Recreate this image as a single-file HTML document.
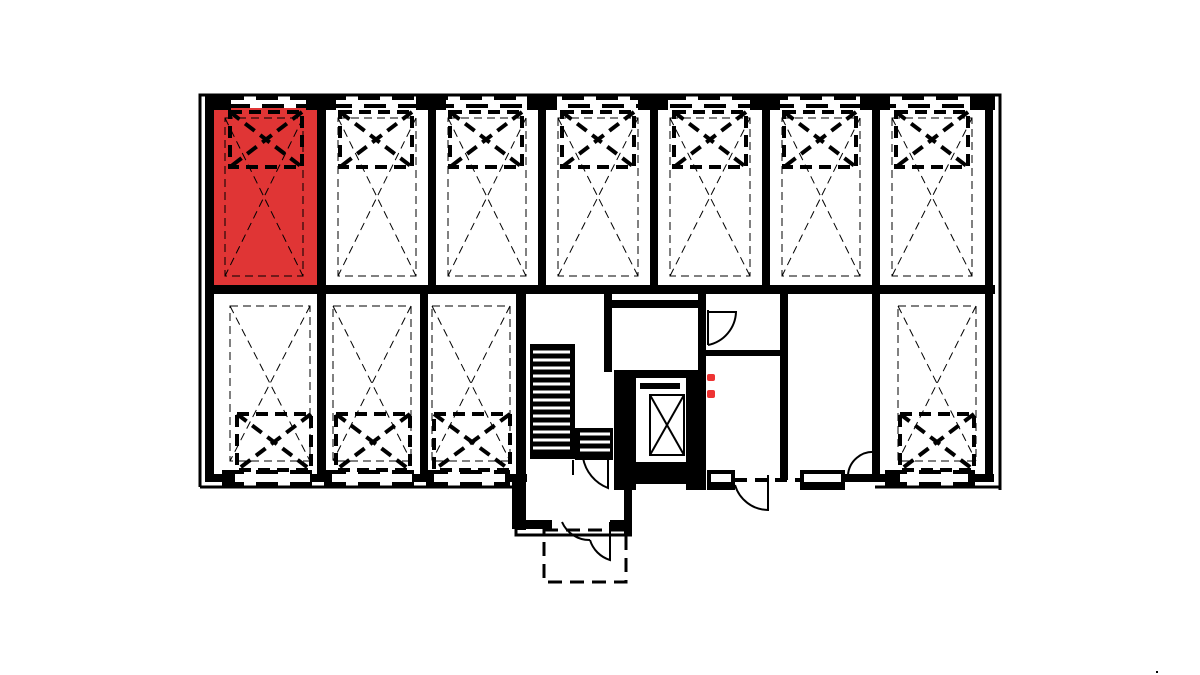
<!DOCTYPE html>
<html><head><meta charset="utf-8"><style>html,body{margin:0;padding:0;background:#fff;width:1200px;height:675px;overflow:hidden}</style></head>
<body>
<svg width="1200" height="675" viewBox="0 0 1200 675" xmlns="http://www.w3.org/2000/svg">
<rect x="0" y="0" width="1200" height="675" fill="#fff"/>
<rect x="214" y="108" width="103" height="178" fill="#e03535"/>
<g fill="none" stroke="#000" stroke-width="3">
<path d="M200 487 V95 H1000 V490"/>
<path d="M200 487 H512 M875 487 H1000"/>
</g>
<!-- top window dashes (two lines) -->
<g stroke="#000" stroke-width="4" stroke-dasharray="22 12">
<line x1="222" y1="98" x2="985" y2="98"/>
<line x1="228" y1="106" x2="985" y2="106"/>
<line x1="222" y1="484" x2="510" y2="484"/>
<line x1="885" y1="484" x2="985" y2="484"/>
<line x1="222" y1="472" x2="510" y2="472"/>
<line x1="885" y1="472" x2="985" y2="472"/>
</g>
<!-- pillars top -->
<g fill="#000">
<rect x="205" y="95" width="26" height="15"/>
<rect x="306" y="95" width="30" height="15"/>
<rect x="416" y="95" width="30" height="15"/>
<rect x="527" y="95" width="30" height="15"/>
<rect x="638" y="95" width="30" height="15"/>
<rect x="750" y="95" width="30" height="15"/>
<rect x="860" y="95" width="30" height="15"/>
<rect x="970" y="95" width="25" height="15"/>
</g>
<g fill="#000">
<rect x="205" y="102" width="9" height="380"/>
<rect x="985" y="102" width="8" height="380"/>
<rect x="205" y="474" width="30" height="8"/>
<rect x="310" y="474" width="22" height="8"/>
<rect x="412" y="474" width="22" height="8"/>
<rect x="505" y="474" width="22" height="8"/>
<rect x="875" y="474" width="25" height="8"/>
<rect x="968" y="474" width="26" height="8"/>
<rect x="205" y="285" width="790" height="9"/>
<rect x="317" y="102" width="9" height="190"/>
<rect x="428" y="102" width="8" height="190"/>
<rect x="538" y="102" width="8" height="190"/>
<rect x="650" y="102" width="8" height="190"/>
<rect x="762" y="102" width="8" height="190"/>
<rect x="872" y="102" width="8" height="190"/>
<rect x="317" y="290" width="9" height="190"/>
<rect x="420" y="290" width="8" height="190"/>
<rect x="872" y="290" width="8" height="190"/>
<rect x="516" y="290" width="10" height="240"/>
<rect x="604" y="300" width="96" height="8"/>
<rect x="698" y="290" width="8" height="200"/>
<rect x="780" y="290" width="8" height="190"/>
<rect x="706" y="350" width="78" height="6"/>
<rect x="604" y="290" width="8" height="82"/>
<rect x="614" y="370" width="88" height="8"/>
<rect x="614" y="370" width="22" height="120"/>
<rect x="686" y="370" width="20" height="120"/>
<rect x="614" y="462" width="92" height="22"/>
<rect x="624" y="480" width="8" height="55"/>
<rect x="512" y="520" width="40" height="9"/>
<rect x="610" y="520" width="22" height="9"/>
<rect x="512" y="480" width="5" height="48"/>
<rect x="707" y="470" width="28" height="20"/>
<rect x="800" y="470" width="45" height="20"/>
<rect x="845" y="474" width="30" height="8"/>
</g>
<rect x="711" y="474" width="20" height="8" fill="#fff"/>
<rect x="804" y="474" width="37" height="8" fill="#fff"/>
<line x1="735" y1="480" x2="800" y2="480" stroke="#000" stroke-width="4" stroke-dasharray="12 8"/>
<rect x="640" y="380" width="42" height="80" fill="#fff"/>
<g stroke="#000" stroke-width="2" fill="none">
<rect x="650" y="395" width="34" height="60"/>
<line x1="650" y1="395" x2="684" y2="455"/><line x1="684" y1="395" x2="650" y2="455"/>
</g>
<rect x="640" y="383" width="40" height="6" fill="#000"/>
<g fill="#000">
<rect x="530" y="344" width="45" height="115"/>
<rect x="575" y="428" width="38" height="32"/>
</g>
<g stroke="#fff" stroke-width="3">
<line x1="533" y1="352" x2="570" y2="352"/><line x1="533" y1="360" x2="570" y2="360"/><line x1="533" y1="368" x2="570" y2="368"/>
<line x1="533" y1="376" x2="570" y2="376"/><line x1="533" y1="384" x2="570" y2="384"/><line x1="533" y1="392" x2="570" y2="392"/>
<line x1="533" y1="400" x2="570" y2="400"/><line x1="533" y1="408" x2="570" y2="408"/><line x1="533" y1="416" x2="570" y2="416"/>
<line x1="533" y1="424" x2="570" y2="424"/><line x1="533" y1="432" x2="570" y2="432"/><line x1="533" y1="440" x2="570" y2="440"/>
<line x1="533" y1="448" x2="570" y2="448"/>
<line x1="580" y1="434" x2="610" y2="434"/><line x1="580" y1="442" x2="610" y2="442"/><line x1="580" y1="450" x2="610" y2="450"/>
</g>
<g fill="none" stroke="#000" stroke-width="2">
<path d="M708 310 V345 M708 345 A35 35 0 0 0 736 312 H708"/>
<path d="M573 460 V475 M583 458 A40 40 0 0 0 608 488 V460"/>
<path d="M735 485 A35 35 0 0 0 768 510 V475"/>
<path d="M848 475 A25 25 0 0 1 875 452"/>
<path d="M562 522 A30 30 0 0 0 590 540 M610 522 V560 A30 30 0 0 1 590 540"/>
</g>
<rect x="544" y="530" width="82" height="52" fill="none" stroke="#000" stroke-width="3" stroke-dasharray="14 8"/>
<path d="M516 480 V535 H632" fill="none" stroke="#000" stroke-width="3"/>
<rect x="707" y="374" width="8" height="7" rx="2" fill="#e33"/>
<rect x="707" y="390" width="8" height="8" rx="2" fill="#e33"/>
<g fill="none" stroke="#000" stroke-width="1" stroke-dasharray="8 5">
<rect x="225" y="118" width="78" height="158"/><path d="M225 118 L303 276 M303 118 L225 276"/>
<rect x="338" y="118" width="78" height="158"/><path d="M338 118 L416 276 M416 118 L338 276"/>
<rect x="448" y="118" width="78" height="158"/><path d="M448 118 L526 276 M526 118 L448 276"/>
<rect x="558" y="118" width="80" height="158"/><path d="M558 118 L638 276 M638 118 L558 276"/>
<rect x="670" y="118" width="80" height="158"/><path d="M670 118 L750 276 M750 118 L670 276"/>
<rect x="782" y="118" width="78" height="158"/><path d="M782 118 L860 276 M860 118 L782 276"/>
<rect x="892" y="118" width="80" height="158"/><path d="M892 118 L972 276 M972 118 L892 276"/>
<rect x="230" y="306" width="80" height="155"/><path d="M230 306 L310 461 M310 306 L230 461"/>
<rect x="333" y="306" width="78" height="155"/><path d="M333 306 L411 461 M411 306 L333 461"/>
<rect x="432" y="306" width="78" height="155"/><path d="M432 306 L510 461 M510 306 L432 461"/>
<rect x="898" y="306" width="78" height="155"/><path d="M898 306 L976 461 M976 306 L898 461"/>
</g>
<g fill="none" stroke="#000" stroke-width="4" stroke-dasharray="12 7">
<rect x="230" y="112" width="72" height="55"/><path d="M230 112 L302 167 M302 112 L230 167"/>
<rect x="340" y="112" width="72" height="55"/><path d="M340 112 L412 167 M412 112 L340 167"/>
<rect x="450" y="112" width="72" height="55"/><path d="M450 112 L522 167 M522 112 L450 167"/>
<rect x="562" y="112" width="72" height="55"/><path d="M562 112 L634 167 M634 112 L562 167"/>
<rect x="674" y="112" width="72" height="55"/><path d="M674 112 L746 167 M746 112 L674 167"/>
<rect x="784" y="112" width="72" height="55"/><path d="M784 112 L856 167 M856 112 L784 167"/>
<rect x="896" y="112" width="72" height="55"/><path d="M896 112 L968 167 M968 112 L896 167"/>
<rect x="237" y="414" width="74" height="56"/><path d="M237 414 L311 470 M311 414 L237 470"/>
<rect x="336" y="414" width="74" height="56"/><path d="M336 414 L410 470 M410 414 L336 470"/>
<rect x="434" y="414" width="76" height="56"/><path d="M434 414 L510 470 M510 414 L434 470"/>
<rect x="900" y="414" width="74" height="56"/><path d="M900 414 L974 470 M974 414 L900 470"/>
</g>
<rect x="1156" y="671" width="2" height="2" fill="#000"/>
</svg>
</body></html>
